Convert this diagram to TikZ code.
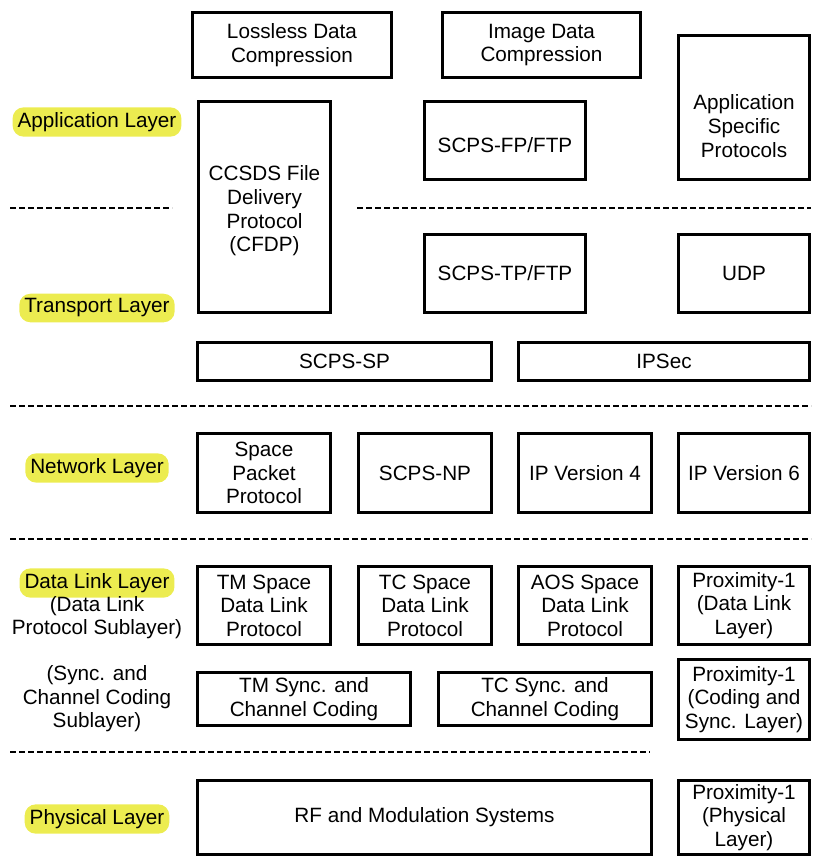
\documentclass[tikz,border=0pt]{standalone}
\usepackage{fontspec}
\setmainfont{Liberation Sans}
\definecolor{hl}{RGB}{236,236,80}
\begin{document}
\begin{tikzpicture}[x=1pt,y=-1pt,
  txt/.style={align=center, inner sep=0pt, font=\fontsize{20.7}{23.6}\selectfont},
  box/.style={draw, line width=3pt, txt},
  layer/.style={fill=hl, rounded corners=11pt, inner xsep=5pt, inner ysep=5pt, font=\fontsize{20.7}{23.6}\selectfont},
  sep/.style={line width=1.8pt, dash pattern=on 6pt off 3pt}]
\useasboundingbox (0,0) rectangle (813,857);
% application / transport
\node[box, minimum width=199pt, minimum height=65pt] (lossless) at (292,45) {Lossless Data\\Compression};
\node[box, minimum width=198pt, minimum height=65pt] (image) at (541.5,45) {Image Data\\Compression};
\node[box, minimum width=131pt, minimum height=144pt] (asp) at (744,107.5) {};
\node[txt] (asp-t) at (744,126) {Application\\Specific\\Protocols};
\node[box, minimum width=132pt, minimum height=211pt] (cfdp) at (264.5,207) {};
\node[txt] (cfdp-t) at (264.5,211) {CCSDS File\\Delivery\\Protocol\\(CFDP)};
\node[box, minimum width=161pt, minimum height=78pt] (fp) at (505,140.5) {};
\node[txt] (fp-t) at (505,145) {SCPS-FP/FTP};
\node[box, minimum width=161pt, minimum height=78pt] (tp) at (505,273.5) {SCPS-TP/FTP};
\node[box, minimum width=131pt, minimum height=78pt] (udp) at (744,273.5) {UDP};
\node[box, minimum width=294pt, minimum height=38pt] (scpssp) at (344.5,361) {SCPS-SP};
\node[box, minimum width=291pt, minimum height=38pt] (ipsec) at (664,361) {IPSec};
% network
\node[box, minimum width=133pt, minimum height=79pt] (spp) at (264,473) {Space\\Packet\\Protocol};
\node[box, minimum width=133pt, minimum height=79pt] (np) at (425,473) {SCPS-NP};
\node[box, minimum width=133pt, minimum height=79pt] (ip4) at (585,473) {IP Version 4};
\node[box, minimum width=131pt, minimum height=79pt] (ip6) at (744,473) {IP Version 6};
% data link
\node[box, minimum width=133pt, minimum height=78pt] (tm) at (264,605.5) {TM Space\\Data Link\\Protocol};
\node[box, minimum width=133pt, minimum height=78pt] (tc) at (425,605.5) {TC Space\\Data Link\\Protocol};
\node[box, minimum width=133pt, minimum height=78pt] (aos) at (585,605.5) {AOS Space\\Data Link\\Protocol};
\node[box, minimum width=131pt, minimum height=78pt] (proxdl) at (744,605.5) {Proximity-1\\(Data Link\\Layer)};
\node[box, minimum width=213pt, minimum height=53pt] (tmsync) at (304,699) {TM Sync. and\\Channel Coding};
\node[box, minimum width=213pt, minimum height=53pt] (tcsync) at (545,699) {TC Sync. and\\Channel Coding};
\node[box, minimum width=131pt, minimum height=80pt] (proxc) at (744,699.5) {Proximity-1\\(Coding and\\Sync. Layer)};
% physical
\node[box, minimum width=454pt, minimum height=74pt] (rf) at (424.5,817.5) {RF and Modulation Systems};
\node[box, minimum width=131pt, minimum height=74pt] (proxp) at (744,817.5) {Proximity-1\\(Physical\\Layer)};
% layer labels
\node[layer] (lapp) at (97,122) {Application Layer};
\node[layer] (ltr) at (97,308) {Transport Layer};
\node[layer] (lnet) at (97,468) {Network Layer};
\node[layer] (ldl) at (97,583) {Data Link Layer};
\node[txt, anchor=north] (ldlsub) at (97,596) {(Data Link\\Protocol Sublayer)};
\node[txt] (lsync) at (97,699) {(Sync. and\\Channel Coding\\Sublayer)};
\node[layer] (lphy) at (97,819) {Physical Layer};
% separators
\coordinate (s1a) at (10,208); \coordinate (s1b) at (172,208);
\coordinate (s1c) at (357,208); \coordinate (s1d) at (811,208);
\coordinate (s2a) at (10,406); \coordinate (s2b) at (811,406);
\coordinate (s3a) at (10,539); \coordinate (s3b) at (811,539);
\coordinate (s4a) at (10,752); \coordinate (s4b) at (650,752);
\draw[sep] (s1a) -- (s1b);
\draw[sep] (s1c) -- (s1d);
\draw[sep] (s2a) -- (s2b);
\draw[sep] (s3a) -- (s3b);
\draw[sep] (s4a) -- (s4b);
\end{tikzpicture}
\end{document}
